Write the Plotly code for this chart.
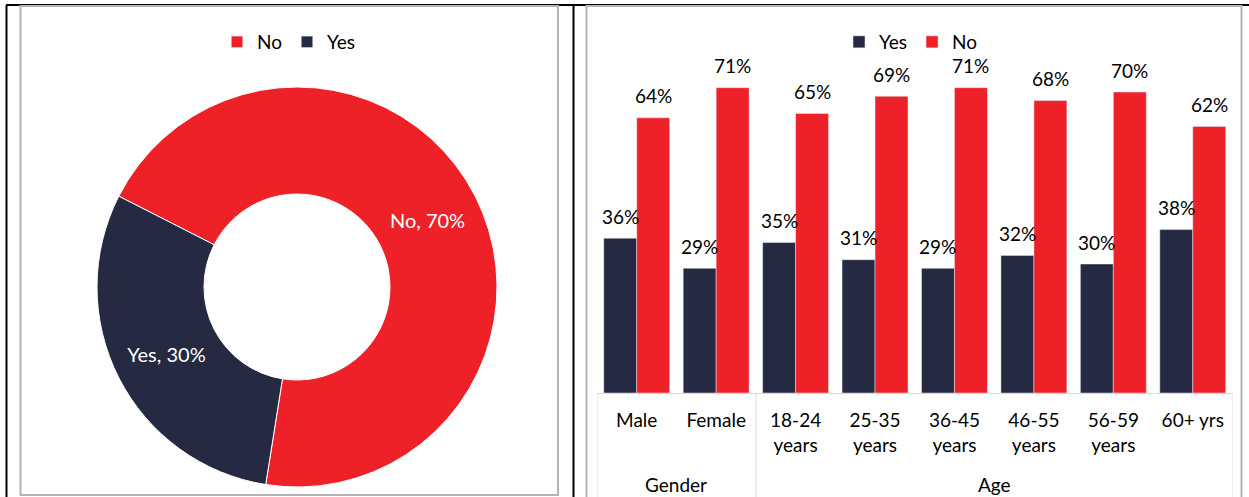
import plotly.graph_objects as go

W, H = 1249, 497

# Overall answer split
pie_labels = ["No", "Yes"]
pie_values = [70, 30]

# Breakdown by gender and age group
groups = ["Gender", "Gender", "Age", "Age", "Age", "Age", "Age", "Age"]
categories = ["Male", "Female", "18-24<br>years", "25-35<br>years", "36-45<br>years",
              "46-55<br>years", "56-59<br>years", "60+ yrs"]
yes_values = [36, 29, 35, 31, 29, 32, 30, 38]
no_values = [64, 71, 65, 69, 71, 68, 70, 62]

RED = "#EE2129"
NAVY = "#252942"
GRID = "#D9D9D9"
FONT = "Lato"
BARGAP = 0.17


def px(x):
    return x / W


def py(y):
    return 1 - y / H


fig = go.Figure()

fig.add_trace(go.Pie(
    labels=pie_labels,
    values=pie_values,
    sort=False,
    direction="clockwise",
    rotation=297,
    hole=0.465,
    marker=dict(colors=[RED, NAVY], line=dict(color="white", width=1)),
    texttemplate="%{label}, %{value}%",
    textposition="inside",
    insidetextorientation="horizontal",
    textfont=dict(color="white", size=20, family=FONT),
    domain=dict(x=[px(97), px(497)], y=[py(487), py(87)]),
    legend="legend",
    hoverinfo="label+percent",
))

series = [("Yes", yes_values, NAVY), ("No", no_values, RED)]
for name, vals, color in series:
    fig.add_trace(go.Bar(
        name=name, x=categories, y=vals, marker_color=color,
        legend="legend2", hovertemplate="%{y}%<extra>" + name + "</extra>",
    ))

# Value labels above each bar, placed at the bar's value on the axis scale
half = (1 - BARGAP) / 2
annotations = []
for k, (name, vals, color) in enumerate(series):
    offset = -half / 2 if k == 0 else half / 2
    for i, v in enumerate(vals):
        annotations.append(dict(
            x=i + offset, y=v, xref="x", yref="y", text=f"{v}%",
            showarrow=False, yanchor="middle", xanchor="center", yshift=22,
            font=dict(size=19, color="black", family=FONT),
        ))

shapes = []

# Group headings under the category labels, with divider lines between groups
bounds = []
start = 0
for i in range(1, len(groups) + 1):
    if i == len(groups) or groups[i] != groups[start]:
        bounds.append((groups[start], start, i - 1))
        start = i
divider = dict(color=GRID, width=1)
for name, first, last in bounds:
    annotations.append(dict(
        x=(first + last) / 2, y=py(484), xref="x", yref="paper", text=name,
        showarrow=False, yanchor="middle", xanchor="center",
        font=dict(size=19, color="black", family=FONT),
    ))
    shapes.append(dict(type="line", xref="x", yref="paper", x0=first - 0.5, x1=first - 0.5,
                       y0=py(393), y1=0, line=divider))
shapes.append(dict(type="line", xref="x", yref="paper", x0=len(groups) - 0.5, x1=len(groups) - 0.5,
                   y0=py(393), y1=0, line=divider))

# Table-style frame lines
line_black = dict(color="black", width=2)
line_frame = dict(color="#B4B4B4", width=2)
shapes.append(dict(type="line", xref="paper", yref="paper", x0=px(6), x1=1, y0=py(5), y1=py(5), line=line_black))
shapes.append(dict(type="line", xref="paper", yref="paper", x0=px(6.5), x1=px(6.5), y0=py(5), y1=0, line=line_black))
shapes.append(dict(type="line", xref="paper", yref="paper", x0=px(573.5), x1=px(573.5), y0=py(5), y1=0, line=line_black))
shapes.append(dict(type="rect", xref="paper", yref="paper", x0=px(20.5), x1=px(558), y0=py(6), y1=py(495), line=line_frame))
shapes.append(dict(type="rect", xref="paper", yref="paper", x0=px(586.5), x1=px(1241.5), y0=py(6), y1=py(505), line=line_frame))

fig.update_layout(
    width=W, height=H,
    margin=dict(l=0, r=0, t=0, b=0),
    paper_bgcolor="white", plot_bgcolor="white",
    font=dict(family=FONT, size=19, color="black"),
    barmode="group", bargap=BARGAP, bargroupgap=0,
    shapes=shapes, annotations=annotations,
    legend=dict(orientation="h", x=px(289), y=py(42), xanchor="center", yanchor="middle",
                font=dict(size=19), itemwidth=30, bgcolor="rgba(0,0,0,0)"),
    legend2=dict(orientation="h", x=px(911), y=py(42), xanchor="center", yanchor="middle",
                 font=dict(size=19), itemwidth=30, bgcolor="rgba(0,0,0,0)"),
    xaxis=dict(
        domain=[px(597), px(1232.5)], range=[-0.5, len(categories) - 0.5],
        showline=True, linecolor=GRID, linewidth=1,
        ticks="", ticklabelstandoff=10, tickfont=dict(size=19, color="black"),
        showgrid=False, zeroline=False,
    ),
    yaxis=dict(
        domain=[py(393), py(49)], range=[0, 80],
        visible=False, showgrid=False, zeroline=False,
    ),
)

fig.write_html("out.html")
